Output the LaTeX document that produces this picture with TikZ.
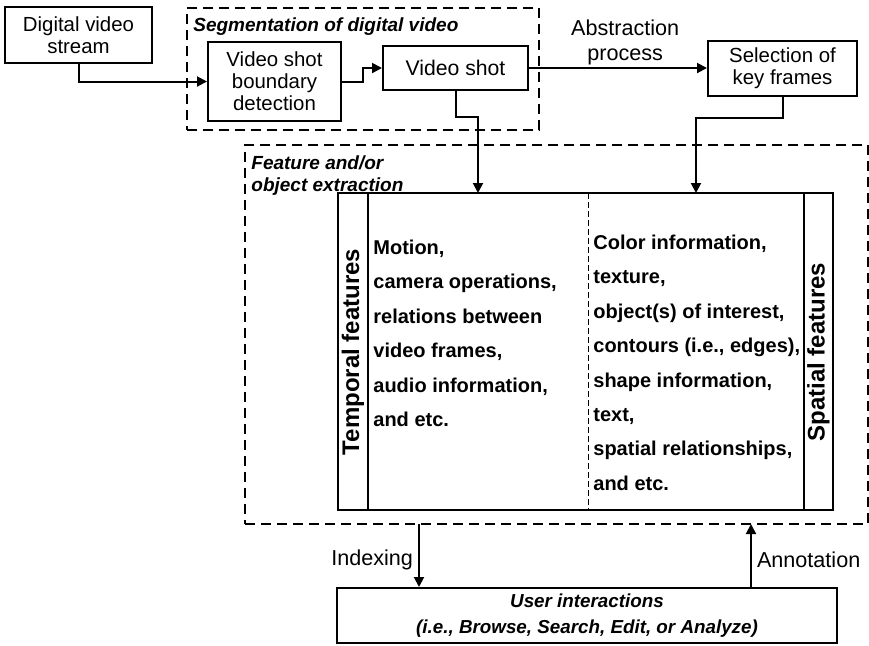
\documentclass[tikz,border=0pt]{standalone}
\usepackage{fontspec}
\setmainfont{Liberation Sans}
\usetikzlibrary{arrows.meta}
\tikzstyle{block} = [
  draw,
  line width=1pt,
  rectangle,
  align=center,
  inner sep=0pt,
  font=\fontsize{10.2}{11}\selectfont,
]
\tikzstyle{dashframe} = [
  draw,
  line width=1pt,
  dash pattern=on 5pt off 3pt,
  rectangle,
  inner sep=0pt,
]
\tikzstyle{flow} = [
  line width=1pt,
  -{Triangle[length=5pt,width=5pt]},
]
\tikzstyle{heading} = [
  align=left,
  inner sep=0pt,
  font=\fontsize{9.5}{11}\selectfont\bfseries\itshape,
]
\tikzstyle{itemlist} = [
  align=left,
  inner sep=0pt,
  font=\fontsize{10}{17.2}\selectfont\bfseries,
]
\tikzstyle{sidelabel} = [
  rotate=90,
  inner sep=0pt,
  font=\fontsize{12}{14}\selectfont\bfseries,
]
\tikzstyle{edgelabel} = [
  align=center,
  font=\fontsize{10.8}{12.5}\selectfont,
]

\begin{document}
\begin{tikzpicture}[
    x=0.5pt, y=-0.5pt,
  ]
  \useasboundingbox (0,0) rectangle (869,645);
  % dashed groups
  \node[dashframe, minimum width=176pt, minimum height=61pt]
    (seg) at (363,69) {};
  \node[dashframe, minimum width=311.5pt, minimum height=189.5pt]
    (extract) at (556.5,334.5) {};
  \node[heading, anchor=base west] at (193,31)
    {Segmentation of digital video};
  \node[heading, anchor=north west] at (251,155)
    {Feature and/or\\object extraction};
  % top row
  \node[block, minimum width=73.5pt, minimum height=28pt]
    (dvs) at (78.5,35) {Digital video\\stream};
  \node[block, minimum width=66.5pt, minimum height=39.5pt]
    (shotdet) at (274.5,81.5) {Video shot\\boundary\\detection};
  \node[block, minimum width=72.5pt, minimum height=22pt,
    font=\fontsize{10.6}{12}\selectfont]
    (shot) at (455.5,68) {Video shot};
  \node[block, minimum width=74.5pt, minimum height=27.5pt]
    (keyfr) at (782.5,68) {Selection of\\key frames};
  % feature table
  \node[draw, line width=1pt, minimum width=247.5pt, minimum height=158.5pt]
    (feat) at (585.5,351.5) {};
  \draw[line width=1pt] (368,193) -- (368,510);
  \draw[line width=1pt] (804,193) -- (804,510);
  \draw[line width=0.5pt, dash pattern=on 3pt off 1.5pt] (588,193) -- (588,510);
  \node[sidelabel] (temporal) at (353,352) {Temporal features};
  \node[sidelabel] (spatial) at (818.5,352) {Spatial features};
  \node[itemlist, anchor=north west] (tlist) at (373,239.5)
    {Motion,\\camera operations,\\relations between\\video frames,\\audio information,\\and etc.};
  \node[itemlist, anchor=north west] (slist) at (593,234.5)
    {Color information,\\texture,\\object(s) of interest,\\contours (i.e., edges),\\shape information,\\text,\\spatial relationships,\\and etc.};
  \coordinate (tin) at (478,193);
  \coordinate (kin) at (696,193);
  % bottom
  \node[block, minimum width=250pt, minimum height=27.5pt,
    font=\fontsize{9.4}{13}\selectfont\bfseries\itshape]
    (user) at (587,615.5) {User interactions\\(i.e., Browse, Search, Edit, or Analyze)};
  \coordinate (idx) at (419,524);
  \coordinate (ann) at (751,524);
  % connectors
  \draw[flow] (dvs.south) |- (shotdet.west);
  \draw[flow] (shotdet.east) -- ++(21,0) |- (shot.west);
  \draw[flow] (shot.east) -- node[edgelabel, pos=0.54, above, inner sep=1pt]
    {Abstraction\\process} (keyfr.west);
  \draw[flow] (shot.south) -- ++(0,26) -| (tin);
  \draw[flow] (keyfr.south) -- ++(0,21) -| (kin);
  \draw[flow] (idx) -- node[edgelabel, left, yshift=-2pt, inner sep=2.5pt] {Indexing}
    (idx |- user.north);
  \draw[flow] (user.north -| ann) -- node[edgelabel, right, yshift=-2pt, inner sep=2.5pt]
    {Annotation} (ann);
\end{tikzpicture}
\end{document}
